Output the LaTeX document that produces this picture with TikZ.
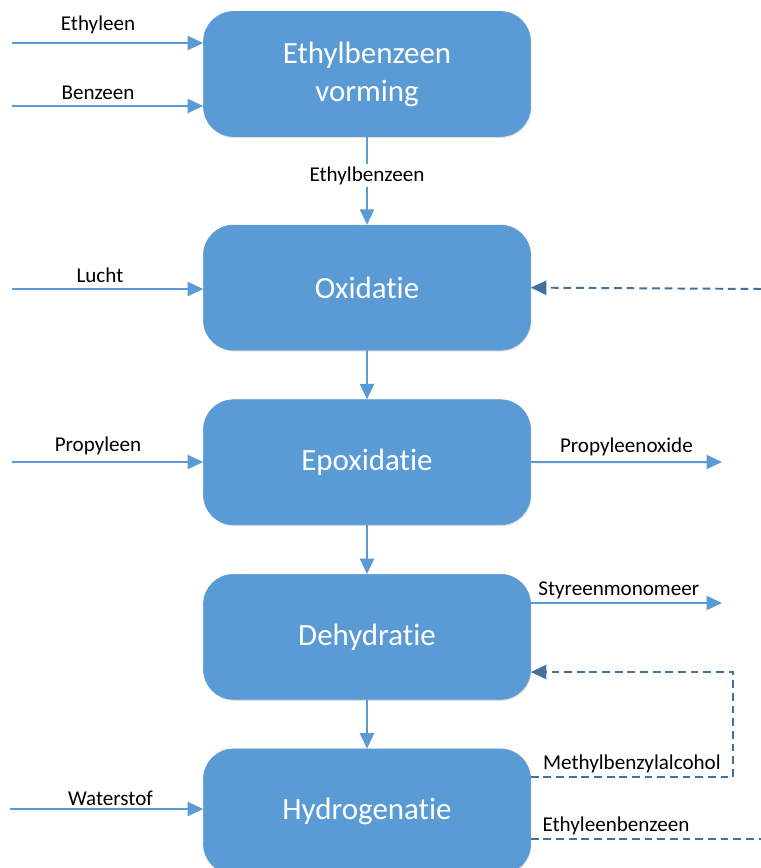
\documentclass[tikz,border=0pt]{standalone}
\usepackage{fontspec}
\setmainfont[Ligatures=NoCommon]{Carlito}
\usetikzlibrary{arrows.meta, positioning, shadows}

\definecolor{boxblue}{HTML}{5B9BD5}
\definecolor{darkblue}{HTML}{41719C}

\begin{document}
\begin{tikzpicture}[
    x=0.025cm, y=0.025cm,
    node distance=1.225cm,
    >={Triangle[length=11pt, width=10pt]},
    process/.style={rectangle, rounded corners=0.75cm, draw=boxblue, fill=boxblue, text=white, minimum width=8.175cm, minimum height=3.125cm, align=center, font=\fontsize{22}{27}\selectfont, drop shadow={shadow xshift=0.6pt, shadow yshift=-1pt, opacity=0.25, fill=gray}},
    flow/.style={draw=boxblue, line width=1.4pt, ->},
    recycle/.style={draw=darkblue, line width=1.4pt, dash pattern=on 5.5pt off 3.5pt},
    lbl/.style={text=black, font=\fontsize{15}{18}\selectfont, inner sep=2pt}
]
    \useasboundingbox (0,0) rectangle (761,-868);

    % Process steps
    \node (vorming) [process] at (367,-74) {Ethylbenzeen\\vorming};
    \node (oxidatie) [process, below=2.2cm of vorming] {Oxidatie};
    \node (epox) [process, below=of oxidatie] {Epoxidatie};
    \node (dehyd) [process, below=of epox] {Dehydratie};
    \node (hydro) [process, below=of dehyd] {Hydrogenatie};

    % Free ends of the streams
    \coordinate (ethyleen) at (12,-43);
    \coordinate (benzeen) at (12,-106);
    \coordinate (lucht) at (12,-289);
    \coordinate (propyleen) at (12,-462);
    \coordinate (waterstof) at (10,-809);
    \coordinate (po) at (722,-462);
    \coordinate (sm) at (722,-603);
    \coordinate (retour) at (761,-289);
    \coordinate (mba) at (733,-777);
    \coordinate (mbb) at (733,-672);
    \coordinate (eb) at (761,-839);

    % Feeds
    \draw[flow] (ethyleen) -- node[lbl, above, pos=0.45, yshift=4pt] {Ethyleen} (ethyleen -| vorming.west);
    \draw[flow] (benzeen) -- node[lbl, above, pos=0.45, yshift=2pt] {Benzeen} (benzeen -| vorming.west);
    \draw[flow] (lucht) -- node[lbl, above, pos=0.46, yshift=2pt] {Lucht} (lucht -| oxidatie.west);
    \draw[flow] (propyleen) -- node[lbl, above, pos=0.45, yshift=2pt] {Propyleen} (propyleen -| epox.west);
    \draw[flow] (waterstof) -- node[lbl, above, pos=0.52] {Waterstof} (waterstof -| hydro.west);

    % Main line
    \draw[flow] (vorming) -- node[lbl, fill=white, pos=0.44] {Ethylbenzeen} (oxidatie);
    \draw[flow] (oxidatie) -- (epox);
    \draw[flow] (epox) -- (dehyd);
    \draw[flow] (dehyd) -- (hydro);

    % Products
    \draw[flow] (epox.east) -- node[lbl, above, yshift=2pt] {Propyleenoxide} (po);
    \draw[flow] (sm -| dehyd.east) -- node[lbl, above, pos=0.46] {Styreenmonomeer} (sm);

    % Recycle streams
    \draw[recycle, ->] (retour) -- (oxidatie.east);
    \draw[recycle, ->] (mba -| hydro.east) -- node[lbl, above] {Methylbenzylalcohol} (mba) -- (mbb) -- (mbb -| dehyd.east);
    \draw[recycle] (eb -| hydro.east) -- node[lbl, above, pos=0.37] {Ethyleenbenzeen} (eb);
\end{tikzpicture}
\end{document}
